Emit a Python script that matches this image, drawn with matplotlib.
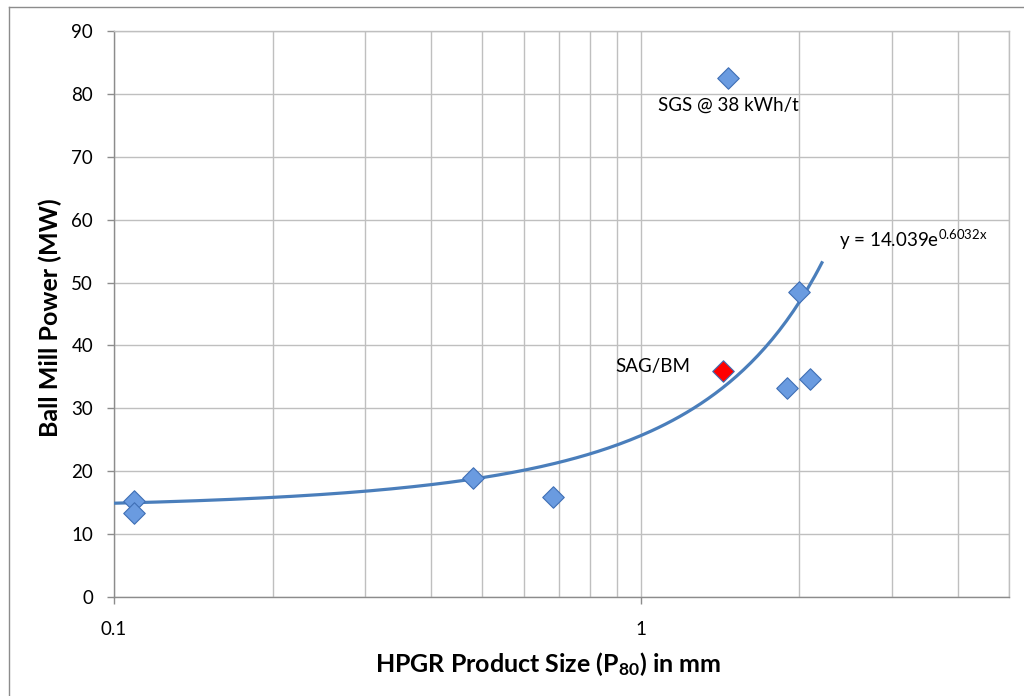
"""Ball mill power vs HPGR product size, with Excel-style exponential trendline."""

import matplotlib

matplotlib.use("Agg")
import matplotlib.pyplot as plt
import numpy as np
from matplotlib.lines import Line2D
from matplotlib.ticker import FixedFormatter, FixedLocator, LogLocator, NullFormatter

plt.rcParams["font.family"] = ["Lato", "DejaVu Sans"]
plt.rcParams["mathtext.fontset"] = "custom"
plt.rcParams["mathtext.rm"] = "Lato"
plt.rcParams["mathtext.it"] = "Lato"
plt.rcParams["mathtext.bf"] = "Lato:bold"

# HPGR product size P80 (mm) vs ball mill power (MW)
p80_mm = [0.109, 0.109, 0.481, 0.681, 1.463, 1.893, 2.0, 2.098]
power_mw = [15.2, 13.4, 19.0, 15.95, 82.6, 33.2, 48.5, 34.6]

# SAG/BM reference case
sag_p80_mm = [1.435]
sag_power_mw = [36.0]

# exponential fit y = a * exp(b x), drawn over the fitted x range
fit_a = 14.039
fit_b = 0.6032
fit_range = (0.1, 2.207)

y_ticks = [0, 10, 20, 30, 40, 50, 60, 70, 80, 90]

GRID = "#bfbfbf"
AXIS = "#8c8c8c"
BLUE_FILL = "#6a9be0"
BLUE_EDGE = "#3f6fb5"
LINE = "#4a7ebb"

fig = plt.figure(figsize=(10.24, 6.96), dpi=100)
ax = fig.add_axes((114 / 1024, 1 - 597 / 696, 895 / 1024, 566 / 696))

# chart border (top and left edges visible in the crop)
fig.add_artist(Line2D([9 / 1024, 1.2], [1 - 7 / 696] * 2, transform=fig.transFigure,
                      color=AXIS, lw=1.0))
fig.add_artist(Line2D([9 / 1024] * 2, [-0.2, 1 - 7 / 696], transform=fig.transFigure,
                      color=AXIS, lw=1.0))

ax.set_xscale("log")
ax.set_xlim(0.1, 5)
ax.set_ylim(0, 90)

xs = np.geomspace(*fit_range, 200)
ax.plot(xs, fit_a * np.exp(fit_b * xs), color=LINE, lw=2.3, zorder=3)

ax.scatter(p80_mm, power_mw, marker="D", s=120, facecolor=BLUE_FILL,
           edgecolor=BLUE_EDGE, linewidth=0.8, zorder=4)
ax.scatter(sag_p80_mm, sag_power_mw, marker="D", s=120, facecolor="#ff0000",
           edgecolor=BLUE_EDGE, linewidth=0.8, zorder=4)

ax.text(1.08, 78.2, "SGS @ 38 kWh/t", fontsize=13.5, ha="left", va="center")
ax.text(0.896, 36.6, "SAG/BM", fontsize=13.5, ha="left", va="center")
ax.text(2.383, 56.8, r"y = 14.039e$^{\mathrm{0.6032x}}$", fontsize=13.5,
        ha="left", va="center")

# gridlines at every major/minor decade position
ax.xaxis.set_major_locator(FixedLocator([0.1, 1]))
ax.xaxis.set_major_formatter(FixedFormatter(["0.1", "1"]))
ax.xaxis.set_minor_locator(LogLocator(base=10, subs=np.arange(2, 10)))
ax.xaxis.set_minor_formatter(NullFormatter())
ax.set_yticks(y_ticks)

ax.grid(True, which="both", axis="x", color=GRID, lw=1.0)
ax.grid(True, which="major", axis="y", color=GRID, lw=1.0)
ax.set_axisbelow(True)

for side in ("left", "bottom"):
    ax.spines[side].set_color(AXIS)
    ax.spines[side].set_linewidth(1.0)
for side in ("top", "right"):
    ax.spines[side].set_color(GRID)
    ax.spines[side].set_linewidth(1.0)

ax.tick_params(axis="both", which="major", length=5, width=1.0, color=AXIS,
               labelsize=13.5)
ax.tick_params(axis="x", which="major", pad=12)
ax.tick_params(axis="y", which="major", pad=10)
ax.tick_params(axis="x", which="minor", length=0)

ax.set_xlabel(r"HPGR Product Size (P$_{\mathbf{80}}$) in mm", fontsize=18,
              fontweight="bold")
ax.set_ylabel("Ball Mill Power (MW)", fontsize=18, fontweight="bold")
ax.xaxis.set_label_coords(0.485, -0.093)
ax.yaxis.set_label_coords(-0.058, 0.493)

fig.savefig("out.png", dpi=100)
